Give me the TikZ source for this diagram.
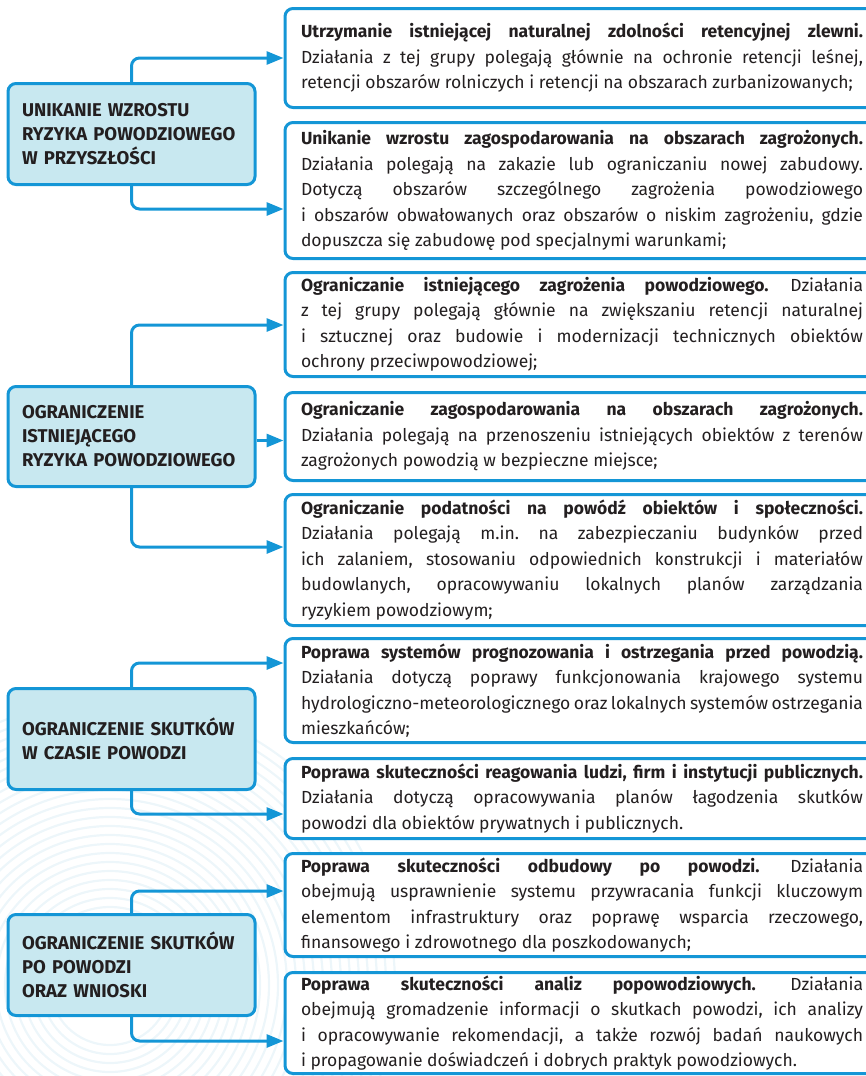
\documentclass[tikz,border=0pt]{standalone}
\usepackage{fontspec}
\setmainfont{Fira Sans}
\newfontfamily\headfont{Fira Sans}
\usetikzlibrary{arrows.meta}
\definecolor{lineblue}{HTML}{1496D6}
\definecolor{boxfill}{HTML}{C8E8F0}
\definecolor{txt}{HTML}{231F20}
\definecolor{ripple}{HTML}{EDF6FA}
\hyphenpenalty=10000
\tolerance=10000
\frenchspacing
\tikzset{
  catbox/.style={draw=lineblue, line width=3pt, fill=boxfill, rounded corners=8pt,
    minimum width=247pt, text width=219pt, inner xsep=14pt, inner ysep=0pt,
    align=left, font=\headfont\bfseries\fontsize{18.5}{24}\selectfont, text=txt, anchor=west},
  descbox/.style={draw=lineblue, line width=3pt, fill=white, rounded corners=8pt,
    text width=562pt, inner xsep=16pt, inner ysep=0pt, align=justify,
    font=\fontsize{17.5}{25.5}\selectfont, text=txt, anchor=west},
  link/.style={draw=lineblue, line width=3pt, rounded corners=8pt,
    -{Triangle[length=17pt,width=13pt]}}
}
\begin{document}
\begin{tikzpicture}[x=1pt,y=-1pt]
\useasboundingbox (0,0) rectangle (866,1076);
\clip (0,0) rectangle (866,1076);
% faint ripple background
\foreach \r in {60,69,...,290} {
  \draw[ripple, line width=2.2pt] (110,985) circle[radius=\r];
}
% category boxes
\node[catbox, minimum height=101pt] (A) at (6.5,134) {UNIKANIE WZROSTU\\RYZYKA POWODZIOWEGO\\W PRZYSZŁOŚCI};
\node[catbox, minimum height=100pt] (B) at (6.5,436.5) {OGRANICZENIE\\ISTNIEJĄCEGO\\RYZYKA POWODZIOWEGO};
\node[catbox, minimum height=101pt] (C) at (6.5,739) {OGRANICZENIE SKUTKÓW\\W CZASIE POWODZI};
\node[catbox, minimum height=101pt] (D) at (6.5,965) {OGRANICZENIE SKUTKÓW\\PO POWODZI\\ORAZ WNIOSKI};
% description boxes
\node[descbox, minimum height=99pt] (r1) at (283.5,58) {\textbf{Utrzymanie istniejącej naturalnej zdolności retencyjnej zlewni.}\linebreak
Działania z tej grupy polegają głównie na ochronie retencji leśnej,\linebreak
retencji obszarów rolniczych i retencji na obszarach zurbanizowanych;};
\node[descbox, minimum height=136pt] (r2) at (283.5,190.5) {\textbf{Unikanie wzrostu zagospodarowania na obszarach zagrożonych.}\linebreak
Działania polegają na zakazie lub ograniczaniu nowej zabudowy.\linebreak
Dotyczą obszarów szczególnego zagrożenia powodziowego\linebreak
i obszarów obwałowanych oraz obszarów o niskim zagrożeniu, gdzie\linebreak
dopuszcza się zabudowę pod specjalnymi warunkami;};
\node[descbox, minimum height=104pt] (r3) at (283.5,324.5) {\textbf{Ograniczanie istniejącego zagrożenia powodziowego.} Działania\linebreak
z tej grupy polegają głównie na zwiększaniu retencji naturalnej\linebreak
i sztucznej oraz budowie i modernizacji technicznych obiektów\linebreak
ochrony przeciwpowodziowej;};
\node[descbox, minimum height=88pt] (r4) at (283.5,436.5) {\textbf{Ograniczanie zagospodarowania na obszarach zagrożonych.}\linebreak
Działania polegają na przenoszeniu istniejących obiektów z terenów\linebreak
zagrożonych powodzią w bezpieczne miejsce;};
\node[descbox, minimum height=131pt] (r5) at (283.5,560) {\textbf{Ograniczanie podatności na powódź obiektów i społeczności.}\linebreak
Działania polegają m.in. na zabezpieczaniu budynków przed\linebreak
ich zalaniem, stosowaniu odpowiednich konstrukcji i materiałów\linebreak
budowlanych, opracowywaniu lokalnych planów zarządzania\linebreak
ryzykiem powodziowym;};
\node[descbox, minimum height=104pt] (r6) at (283.5,690.5) {\textbf{Poprawa systemów prognozowania i ostrzegania przed powodzią.}\linebreak
Działania dotyczą poprawy funkcjonowania krajowego systemu\linebreak
hydrologiczno-meteorologicznego oraz lokalnych systemów ostrzegania\linebreak
mieszkańców;};
\node[descbox, minimum height=80pt] (r7) at (283.5,798.5) {\textbf{Poprawa skuteczności reagowania ludzi, firm i instytucji publicznych.}\linebreak
Działania dotyczą opracowywania planów łagodzenia skutków\linebreak
powodzi dla obiektów prywatnych i publicznych.};
\node[descbox, minimum height=103pt] (r8) at (283.5,905) {\textbf{Poprawa skuteczności odbudowy po powodzi.} Działania\linebreak
obejmują usprawnienie systemu przywracania funkcji kluczowym\linebreak
elementom infrastruktury oraz poprawę wsparcia rzeczowego,\linebreak
finansowego i zdrowotnego dla poszkodowanych;};
\node[descbox, minimum height=101pt] (r9) at (283.5,1023) {\textbf{Poprawa skuteczności analiz popowodziowych.} Działania\linebreak
obejmują gromadzenie informacji o skutkach powodzi, ich analizy\linebreak
i opracowywanie rekomendacji, a także rozwój badań naukowych\linebreak
i propagowanie doświadczeń i dobrych praktyk powodziowych.};
% connectors
\draw[link] (A.north) |- (r1.west);
\draw[link] (A.south) |- ([yshift=-18.5pt]r2.west);
\draw[link] (B.north) |- ([yshift=-0.5pt]r3.west);
\draw[link] ([yshift=-4pt]B.east) -- ([yshift=-4pt]r4.west);
\draw[link] (B.south) |- ([yshift=13pt]r5.west);
\draw[link] (C.north) |- ([yshift=27.5pt]r6.west);
\draw[link] (C.south) |- ([yshift=-15.5pt]r7.west);
\draw[link] (D.north) |- ([yshift=14pt]r8.west);
\draw[link] (D.south) |- ([yshift=-18pt]r9.west);
\end{tikzpicture}
\end{document}
